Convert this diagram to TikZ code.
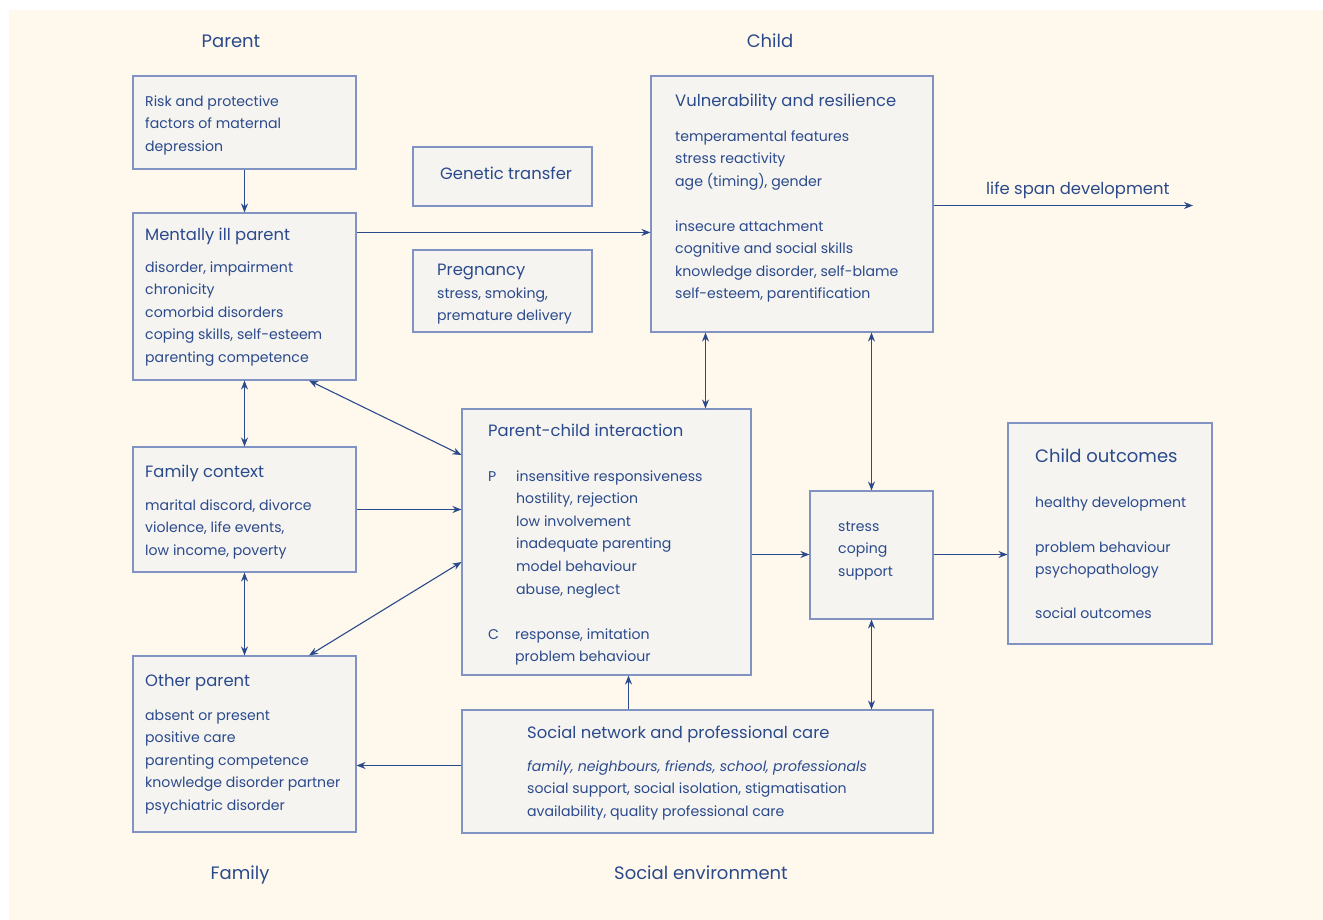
\documentclass[tikz,border=0pt]{standalone}
\usepackage{fontspec}
\setmainfont{Poppins}
\usepackage{xcolor}
\usetikzlibrary{arrows.meta}
\definecolor{ink}{HTML}{2B4A8C}
\definecolor{edge}{HTML}{8093C3}
\definecolor{boxfill}{HTML}{F5F4F1}
\definecolor{paper}{HTML}{FFF8EC}
\begin{document}
\begin{tikzpicture}[x=1pt,y=-1pt,
  box/.style={draw=edge, fill=boxfill, line width=1.1pt, inner sep=0pt},
  txt/.style={text=ink, inner sep=0pt, align=left, anchor=north west, font=\fontsize{14.1}{22.6}\selectfont},
  ttl/.style={text=ink, inner sep=0pt, anchor=base west, font=\fontsize{16.4}{20}\selectfont},
  hdr/.style={text=ink, inner sep=0pt, anchor=base, font=\fontsize{18}{22}\selectfont},
  arr/.style={draw=ink, line width=1.1pt, >={Stealth[length=9pt,width=7pt]}}]
\useasboundingbox (0,0) rectangle (1323,920);
\fill[paper] (9,10) rectangle (1323,920);
% headings
\node[hdr] (hparent) at (231,48) {Parent};
\node[hdr] (hchild) at (770,48) {Child};
\node[hdr] (hfamily) at (240,879) {Family};
\node[hdr] (hsocial) at (701,879) {Social environment};
% boxes
\node[box, minimum width=223, minimum height=93] (risk) at (244.5,122.5) {};
\node[box, minimum width=179, minimum height=59] (genetic) at (502.5,176.5) {};
\node[box, minimum width=223, minimum height=167] (mip) at (244.5,296.5) {};
\node[box, minimum width=179, minimum height=82] (preg) at (502.5,291) {};
\node[box, minimum width=282, minimum height=256] (vuln) at (792,204) {};
\node[box, minimum width=223, minimum height=125] (family) at (244.5,509.5) {};
\node[box, minimum width=289, minimum height=266] (pci) at (606.5,542) {};
\node[box, minimum width=123, minimum height=128] (scs) at (871.5,555) {};
\node[box, minimum width=204, minimum height=221] (outc) at (1110,533.5) {};
\node[box, minimum width=223, minimum height=176] (other) at (244.5,744) {};
\node[box, minimum width=471, minimum height=123] (social) at (697.5,771.5) {};
% texts
\node[txt] (riskL) at (145,90) {\strut Risk and protective\\factors of maternal\\depression};
\node[ttl] (geneticT) at (440,179.5) {Genetic transfer};
\node[ttl] (mipT) at (145,240.5) {Mentally ill parent};
\node[txt] (mipL) at (145,256) {\strut disorder, impairment\\chronicity\\comorbid disorders\\coping skills, self-esteem\\parenting competence};
\node[ttl] (pregT) at (437,275.5) {Pregnancy};
\node[txt] (pregL) at (437,282) {\strut stress, smoking,\\premature delivery};
\node[ttl] (vulnT) at (675,106.5) {Vulnerability and resilience};
\node[txt] (vulnA) at (675,125) {\strut temperamental features\\stress reactivity\\age (timing), gender};
\node[txt] (vulnB) at (675,215) {\strut insecure attachment\\cognitive and social skills\\knowledge disorder, self-blame\\self-esteem, parentification};
\node[ttl] (life) at (986,194.5) {life span development};
\node[ttl] (familyT) at (145,477.5) {Family context};
\node[txt] (familyL) at (145,494) {\strut marital discord, divorce\\violence, life events,\\low income, poverty};
\node[ttl] (pciT) at (488,436.5) {Parent-child interaction};
\node[txt, anchor=base west] (pciP) at (488,481) {P};
\node[txt] (pciPL) at (516,465) {\strut insensitive responsiveness\\hostility, rejection\\low involvement\\inadequate parenting\\model behaviour\\abuse, neglect};
\node[txt, anchor=base west] (pciC) at (488,639) {C};
\node[txt] (pciCL) at (515,623) {\strut response, imitation\\problem behaviour};
\node[txt] (scsL) at (838,515) {\strut stress\\coping\\support};
\node[ttl, font=\fontsize{18}{22}\selectfont] (outcT) at (1035,462) {Child outcomes};
\node[txt] (outcL) at (1035,491) {\strut healthy development\\[22.4pt]problem behaviour\\psychopathology\\[21.4pt]social outcomes};
\node[ttl] (otherT) at (145,686.5) {Other parent};
\node[txt] (otherL) at (145,704) {\strut absent or present\\positive care\\parenting competence\\knowledge disorder partner\\psychiatric disorder};
\node[ttl] (socialT) at (527,738.5) {Social network and professional care};
\node[txt] (socialL) at (527,755) {\strut\itshape family, neighbours, friends, school, professionals\\social support, social isolation, stigmatisation\\availability, quality professional care};
% connectors
\coordinate (lifeend) at (1193,205.5);
\draw[arr,->] (risk.south) -- (mip.north);
\draw[arr,->] ([yshift=-20pt]mip.north east) -- ([yshift=-20pt]mip.north east -| vuln.west);
\draw[arr,->] (vuln.east |- lifeend) -- (lifeend);
\draw[arr,<->] ([xshift=-86.5pt]vuln.south) -- ([xshift=99pt]pci.north);
\draw[arr,<->] (vuln.south -| scs.north) -- (scs.north);
\draw[arr,<->] (mip.south) -- (family.north);
\draw[arr,<->] ([xshift=64.5pt]mip.south) -- ([yshift=87pt]pci.west);
\draw[arr,->] (family.east) -- (family.east -| pci.west);
\draw[arr,<->] (family.south) -- (other.north);
\draw[arr,<->] ([xshift=64.5pt]other.north) -- ([yshift=-20pt]pci.west);
\draw[arr,->] ([yshift=0.5pt]pci.east |- scs.west) -- ([yshift=0.5pt]scs.west);
\draw[arr,->] ([yshift=0.5pt]scs.east) -- ([yshift=0.5pt]scs.east -| outc.west);
\draw[arr,->] ([xshift=-69pt]social.north) -- ([xshift=-69pt]social.north |- pci.south);
\draw[arr,->] ([yshift=6pt]social.west) -- ([yshift=6pt]social.west -| other.east);
\draw[arr,<->] (scs.south) -- (scs.south |- social.north);
\end{tikzpicture}
\end{document}
